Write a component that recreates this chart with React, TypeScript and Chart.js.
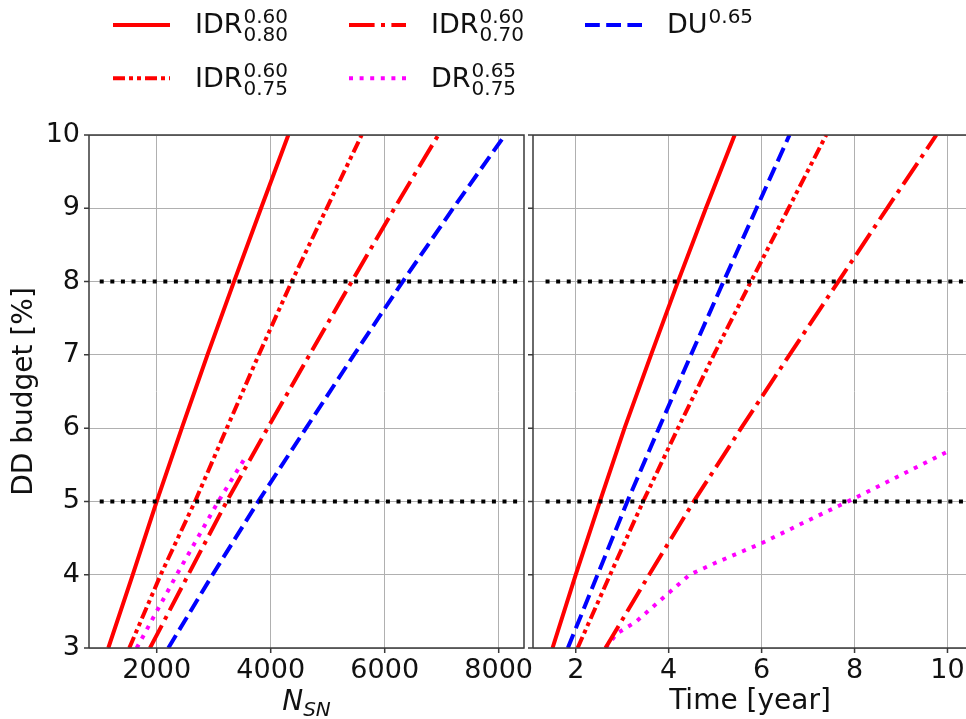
import React, { useEffect, useRef } from "react";
import { Chart, registerables } from "chart.js";

Chart.register(...registerables);

const FONT = '"DejaVu Sans", "Liberation Sans", sans-serif';

// ---------- data ----------
const ddBudget = [3, 4, 5, 6, 7, 8, 9, 10];

// left panel: number of SNe needed
const nsnIdr080 = [1151, 1580, 2000, 2440, 2890, 3356, 3830, 4309];
const nsnIdr075 = [1519, 2070, 2672, 3230, 3790, 4368, 4982, 5596];
const nsnIdr070 = [1882, 2554, 3228, 3945, 4680, 5421, 6170, 6940];
const nsnDu065 = [2204, 2980, 3782, 4620, 5460, 6316, 7200, 8111];
const ddBudgetDrLeft = [3, 4, 5, 5.63];
const nsnDr = [1649, 2351, 3081, 3579];

// right panel: survey time needed
const timeIdr080 = [1.5, 2.0, 2.52, 3.05, 3.62, 4.2, 4.8, 5.42];
const timeDu065 = [1.83, 2.47, 3.11, 3.79, 4.48, 5.18, 5.89, 6.6];
const timeIdr075 = [2.04, 2.74, 3.45, 4.2, 4.97, 5.77, 6.58, 7.39];
const timeIdr070 = [2.64, 3.58, 4.54, 5.56, 6.6, 7.65, 8.7, 9.76];
const timeDr = [2.64, 2.89, 3.3, 4.0, 4.45, 5.0, 6.0, 7.0, 7.86, 9.0, 10.0];
const ddBudgetDrRight = [3, 3.2, 3.36, 3.75, 4.0, 4.16, 4.43, 4.74, 5.0, 5.36, 5.68];

// threshold lines
const thresholds = [5, 8];
const thresholdNsnSpan = [1000, 8444];
const thresholdTimeSpan = [1.35, 10.42];

// axes
const nsnRange = [812, 8444];
const timeRange = [1.08, 10.42];
const ddRange = [3, 10];
const nsnTicks = [2000, 4000, 6000, 8000];
const timeTicks = [2, 4, 6, 8, 10];
const ddTicks = [3, 4, 5, 6, 7, 8, 9, 10];

// ---------- styles ----------
const RED = "#ff0000";
const BLUE = "#0000ff";
const MAGENTA = "#ff00ff";
const LW = 4;
const SOLID: number[] = [];
const DASH_DOT = [25.6, 6.4, 4, 6.4];
const DASH_DOT_DOT = [12, 4, 4, 4, 4, 4];
const DASHED = [14.8, 6.4];
const DOTTED = [4, 6.6];
const TEXT = "#111111";
const FS = 27;
const FS_LABEL = 28;
const FS_SCRIPT = 20;

type LegendItem = { base: string; sup: string; sub?: string; color: string; dash: number[]; col: number; row: number };
const legendItems: LegendItem[] = [
  { base: "IDR", sup: "0.60", sub: "0.80", color: RED, dash: SOLID, col: 0, row: 0 },
  { base: "IDR", sup: "0.60", sub: "0.75", color: RED, dash: DASH_DOT_DOT, col: 0, row: 1 },
  { base: "IDR", sup: "0.60", sub: "0.70", color: RED, dash: DASH_DOT, col: 1, row: 0 },
  { base: "DR", sup: "0.65", sub: "0.75", color: MAGENTA, dash: DOTTED, col: 1, row: 1 },
  { base: "DU", sup: "0.65", color: BLUE, dash: DASHED, col: 2, row: 0 },
];

function pts(xs: number[], ys: number[]) {
  return xs.map((x, i) => ({ x, y: ys[i] }));
}

function series(label: string, xs: number[], ys: number[], color: string, dash: number[]) {
  return {
    label,
    data: pts(xs, ys),
    borderColor: color,
    backgroundColor: color,
    borderWidth: LW,
    borderDash: dash,
    borderCapStyle: "butt",
    borderJoinStyle: "round",
    pointRadius: 0,
    pointHoverRadius: 0,
    fill: false,
    tension: 0,
  };
}

function thresholdSets(span: number[]) {
  return thresholds.map((t) => ({
    label: "threshold " + t,
    data: [
      { x: span[0], y: t },
      { x: span[1], y: t },
    ],
    borderColor: "#000000",
    borderWidth: LW,
    borderDash: DOTTED,
    borderCapStyle: "butt",
    pointRadius: 0,
    fill: false,
  }));
}

function xScale(range: number[], ticks: number[]) {
  return {
    type: "linear",
    min: range[0],
    max: range[1],
    afterBuildTicks: (s: any) => {
      s.ticks = ticks.map((v) => ({ value: v }));
    },
    afterFit: (s: any) => {
      s.height = 71;
    },
    grid: { color: "#b0b0b0", lineWidth: 1, drawTicks: false },
    border: { display: false },
    ticks: {
      font: { family: FONT, size: FS },
      color: TEXT,
      padding: 7,
      maxRotation: 0,
      autoSkip: false,
      callback: (v: any) => String(v),
    },
  };
}

function yScale(width: number, showLabels: boolean) {
  return {
    type: "linear",
    min: ddRange[0],
    max: ddRange[1],
    afterBuildTicks: (s: any) => {
      s.ticks = ddTicks.map((v) => ({ value: v }));
    },
    afterFit: (s: any) => {
      s.width = width;
    },
    grid: { color: "#b0b0b0", lineWidth: 1, drawTicks: false },
    border: { display: false },
    ticks: {
      display: showLabels,
      font: { family: FONT, size: FS },
      color: TEXT,
      padding: 9,
      autoSkip: false,
      callback: (v: any) => String(v),
    },
  };
}

function framePlugin(xTicks: number[], rightSpine: boolean) {
  return {
    id: "frame",
    afterDatasetsDraw(chart: any) {
      const { ctx, chartArea: a, scales } = chart;
      ctx.save();
      ctx.strokeStyle = "#3a3a3a";
      ctx.lineWidth = 1.5;
      ctx.setLineDash([]);
      ctx.beginPath();
      ddTicks.forEach((v) => {
        const y = scales.y.getPixelForValue(v);
        ctx.moveTo(a.left - 5, y);
        ctx.lineTo(a.left, y);
      });
      xTicks.forEach((v) => {
        const x = scales.x.getPixelForValue(v);
        ctx.moveTo(x, a.bottom);
        ctx.lineTo(x, a.bottom + 5);
      });
      // spines
      ctx.moveTo(a.left, a.bottom);
      ctx.lineTo(a.left, a.top);
      ctx.lineTo(a.right, a.top);
      if (rightSpine) ctx.lineTo(a.right, a.bottom);
      else ctx.moveTo(a.right, a.bottom);
      ctx.lineTo(a.left, a.bottom);
      ctx.stroke();
      ctx.restore();
    },
  };
}

function drawLegend(ctx: CanvasRenderingContext2D) {
  const colX = [113, 349, 585];
  const rowY = [25, 78.3];
  legendItems.forEach((it) => {
    const x0 = colX[it.col];
    const y0 = rowY[it.row];
    ctx.save();
    ctx.strokeStyle = it.color;
    ctx.lineWidth = LW;
    ctx.lineCap = "butt";
    ctx.setLineDash(it.dash);
    ctx.beginPath();
    ctx.moveTo(x0, y0);
    ctx.lineTo(x0 + 57, y0);
    ctx.stroke();
    ctx.restore();

    const tx = x0 + 82;
    const base = y0 + 8.3;
    ctx.save();
    ctx.fillStyle = TEXT;
    ctx.textAlign = "left";
    ctx.textBaseline = "alphabetic";
    ctx.font = `${FS}px ${FONT}`;
    ctx.fillText(it.base, tx, base);
    const w = ctx.measureText(it.base).width;
    ctx.font = `${FS_SCRIPT}px ${FONT}`;
    ctx.fillText(it.sup, tx + w + 1, base - 10);
    if (it.sub) ctx.fillText(it.sub, tx + w + 1, base + 8);
    ctx.restore();
  });
}

const leftTextPlugin = {
  id: "leftText",
  afterDraw(chart: any) {
    const { ctx, chartArea: a } = chart;
    drawLegend(ctx);
    // y title
    ctx.save();
    ctx.fillStyle = TEXT;
    ctx.font = `${FS_LABEL}px ${FONT}`;
    ctx.translate(32, (a.top + a.bottom) / 2);
    ctx.rotate(-Math.PI / 2);
    ctx.textAlign = "center";
    ctx.textBaseline = "alphabetic";
    ctx.fillText("DD budget [%]", 0, 0);
    ctx.restore();
    // x title N_SN
    ctx.save();
    ctx.fillStyle = TEXT;
    ctx.textAlign = "left";
    ctx.textBaseline = "alphabetic";
    ctx.font = `italic ${FS_LABEL}px ${FONT}`;
    const wN = ctx.measureText("N").width;
    ctx.font = `italic ${FS_SCRIPT}px ${FONT}`;
    const wS = ctx.measureText("SN").width;
    const cx = (a.left + a.right) / 2;
    const sx = cx - (wN + wS) / 2;
    ctx.font = `italic ${FS_LABEL}px ${FONT}`;
    ctx.fillText("N", sx, 710);
    ctx.font = `italic ${FS_SCRIPT}px ${FONT}`;
    ctx.fillText("SN", sx + wN, 716);
    ctx.restore();
  },
};

const rightTextPlugin = {
  id: "rightText",
  afterDraw(chart: any) {
    const { ctx, chartArea: a } = chart;
    ctx.save();
    ctx.fillStyle = TEXT;
    ctx.font = `${FS_LABEL}px ${FONT}`;
    ctx.textAlign = "center";
    ctx.textBaseline = "alphabetic";
    ctx.fillText("Time [year]", (a.left + a.right) / 2, 709);
    ctx.restore();
  },
};

export default function App() {
  const leftRef = useRef<HTMLCanvasElement>(null);
  const rightRef = useRef<HTMLCanvasElement>(null);

  useEffect(() => {
    const left = new Chart(leftRef.current as HTMLCanvasElement, {
      type: "line",
      data: {
        datasets: [
          ...thresholdSets(thresholdNsnSpan),
          series("IDR 0.80", nsnIdr080, ddBudget, RED, SOLID),
          series("IDR 0.75", nsnIdr075, ddBudget, RED, DASH_DOT_DOT),
          series("IDR 0.70", nsnIdr070, ddBudget, RED, DASH_DOT),
          series("DR 0.75", nsnDr, ddBudgetDrLeft, MAGENTA, DOTTED),
          series("DU 0.65", nsnDu065, ddBudget, BLUE, DASHED),
        ] as any,
      },
      options: {
        responsive: false,
        animation: false,
        layout: { padding: { left: 0, right: 442, top: 135, bottom: 0 } },
        plugins: { legend: { display: false }, tooltip: { enabled: false } },
        events: [],
        scales: {
          x: xScale(nsnRange, nsnTicks) as any,
          y: yScale(89, true) as any,
        },
      },
      plugins: [framePlugin(nsnTicks, true), leftTextPlugin],
    });

    const right = new Chart(rightRef.current as HTMLCanvasElement, {
      type: "line",
      data: {
        datasets: [
          ...thresholdSets(thresholdTimeSpan),
          series("IDR 0.80", timeIdr080, ddBudget, RED, SOLID),
          series("IDR 0.75", timeIdr075, ddBudget, RED, DASH_DOT_DOT),
          series("IDR 0.70", timeIdr070, ddBudget, RED, DASH_DOT),
          series("DR 0.75", timeDr, ddBudgetDrRight, MAGENTA, DOTTED),
          series("DU 0.65", timeDu065, ddBudget, BLUE, DASHED),
        ] as any,
      },
      options: {
        responsive: false,
        animation: false,
        layout: { padding: { left: 0, right: 41, top: 135, bottom: 0 } },
        plugins: { legend: { display: false }, tooltip: { enabled: false } },
        events: [],
        scales: {
          x: xScale(timeRange, timeTicks) as any,
          y: yScale(5, false) as any,
        },
      },
      plugins: [framePlugin(timeTicks, false), rightTextPlugin],
    });

    return () => {
      left.destroy();
      right.destroy();
    };
  }, []);

  return (
    <div
      style={{
        position: "absolute",
        left: 0,
        top: 0,
        width: 966,
        height: 719,
        overflow: "hidden",
        background: "#ffffff",
      }}
    >
      <canvas ref={leftRef} width={966} height={719} style={{ position: "absolute", left: 0, top: 0 }} />
      <canvas ref={rightRef} width={480} height={719} style={{ position: "absolute", left: 528, top: 0 }} />
    </div>
  );
}
